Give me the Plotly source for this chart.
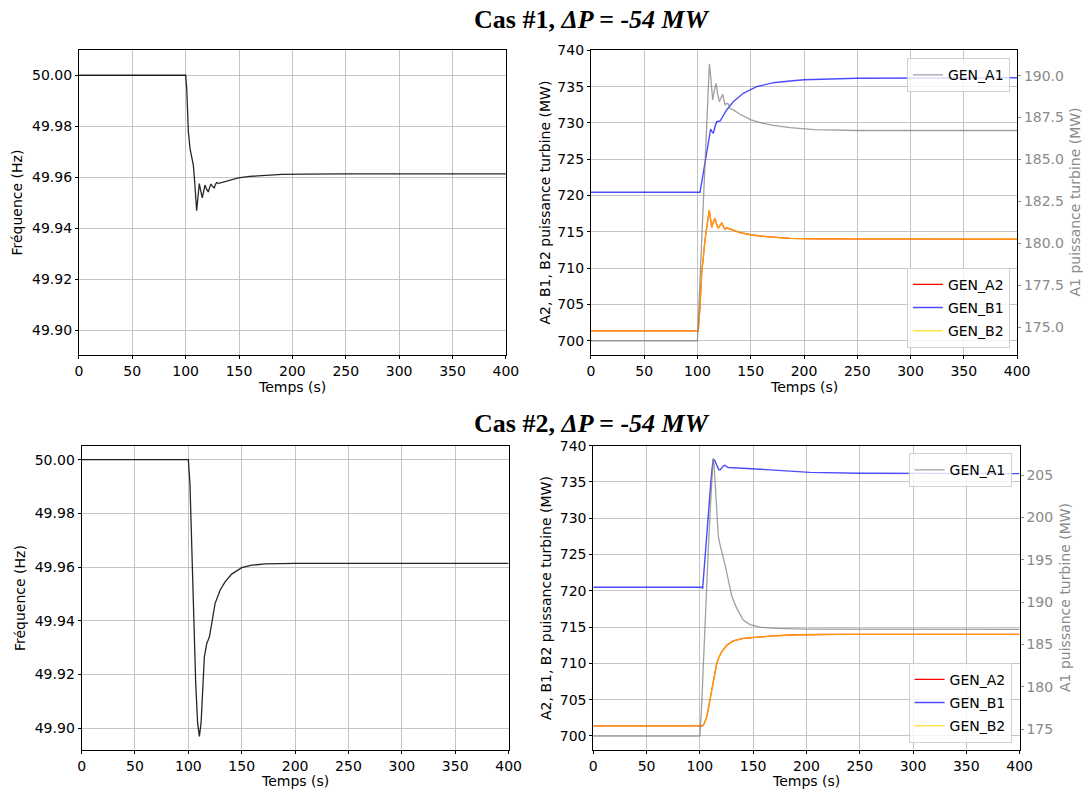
import plotly.graph_objects as go

# ---------------- data ----------------
# Cas 1 : frequency
t_f1 = [0, 100, 101, 102.5, 104.1, 105.5, 107.2, 108.5, 109.5, 110.3, 111.5, 112.8, 114.2, 115.6,
        116.9, 118.1, 119.6, 121.2, 122.5, 123.7, 125.3, 126.8, 128, 129, 131, 133, 136.9, 142,
        149.4, 160, 174.4, 190, 210, 250, 400]
f1 = [50.0, 50.0, 49.995, 49.978, 49.9712, 49.968, 49.9647, 49.958, 49.951, 49.9468, 49.952,
      49.9575, 49.9545, 49.9519, 49.9545, 49.9569, 49.9553, 49.9542, 49.956, 49.9573, 49.9563,
      49.9558, 49.9572, 49.9579, 49.9576, 49.9578, 49.9582, 49.9589, 49.9597, 49.9603, 49.9608,
      49.9611, 49.9612, 49.9613, 49.9613]

# Cas 2 : frequency
t_f2 = [0, 100, 101.5, 103.1, 104.7, 106.9, 108.7, 110.3, 111.9, 113.1, 115, 117.2, 119.7, 121.9,
        125, 129.7, 134.4, 140.6, 150, 159.4, 171.9, 200, 400]
f2 = [50.0, 50.0, 49.9911, 49.9663, 49.9415, 49.9166, 49.9018, 49.897, 49.9018, 49.9142, 49.9266,
      49.9315, 49.934, 49.939, 49.9464, 49.9514, 49.9545, 49.9574, 49.9598, 49.9607, 49.9612,
      49.9614, 49.9614]

# Cas 1 : GEN_A1 (right axis)
t_a1_c1 = [0, 100, 104, 108, 110, 111.2, 112.5, 113.5, 114.3, 115.8, 117.4, 119, 120.5, 122, 123.7,
           125, 125.9, 127.5, 129, 130.5, 133.7, 139.9, 150.3, 160, 171.2, 186.9, 210, 250, 400]
a1_c1 = [174.2, 174.2, 180.2, 186.2, 189.6, 190.7, 189.9, 188.9, 188.55, 189.1, 189.54, 188.9,
         188.45, 188.65, 188.89, 188.5, 188.25, 188.35, 188.3, 188.05, 187.96, 187.7, 187.36,
         187.18, 187.03, 186.9, 186.78, 186.73, 186.73]

# Cas 1 : GEN_B1
t_b1_c1 = [0, 102.4, 104.9, 106.5, 108.5, 110.2, 112.4, 113.6, 114.9, 116.5, 118.1, 121.2, 124.3,
           127.4, 133.6, 143, 155.6, 171.2, 186.9, 200, 250, 300, 400]
b1_c1 = [720.45, 720.45, 722.6, 724.0, 725.5, 727.6, 729.16, 728.8, 728.57, 729.5, 730.17, 730.26,
         731.09, 731.78, 732.92, 734.08, 734.99, 735.54, 735.77, 735.95, 736.15, 736.2, 736.22]

# Cas 1 : GEN_A2 and GEN_B2 (superposed)
t_b2_c1 = [0, 100.8, 102.4, 104, 107.1, 109, 110.3, 111.1, 112.2, 113.4, 115, 116.5, 118, 119.6,
           121.2, 122.8, 124.4, 125.9, 127.5, 129, 132.1, 136, 140, 151, 165, 187, 210, 400]
b2_c1 = [701.35, 701.35, 704.7, 709.3, 713.9, 716.0, 717.5, 718.0, 716.8, 715.6, 716.4, 716.86,
         716.0, 715.5, 715.9, 716.2, 715.7, 715.35, 715.55, 715.45, 715.25, 715.1, 714.88, 714.56,
         714.33, 714.1, 714.03, 714.0]
a2_c1 = [701.35, 701.35, 704.7, 709.3, 713.9, 716.0, 717.5, 718.0, 716.8, 715.6, 716.4, 716.86,
         716.0, 715.5, 715.9, 716.2, 715.7, 715.35, 715.55, 715.45, 715.25, 715.1, 714.88, 714.56,
         714.33, 714.1, 714.03, 714.0]

# Cas 2 : GEN_A1 (right axis)
t_a1_c2 = [0, 100, 101.5, 103.2, 105.4, 108, 110, 111.3, 112.4, 113.3, 114.2, 115.8, 117.3, 118.5,
           120.5, 122, 124, 126.7, 128.3, 130, 134.5, 140.7, 147, 156.4, 172, 200, 400]
a1_c2 = [174.2, 174.2, 177.4, 183.0, 189.6, 196.5, 201.6, 205.2, 206.9, 206.2, 204.3, 201.0, 197.8,
         197.0, 196.0, 195.5, 194.2, 192.6, 191.6, 190.7, 189.3, 187.9, 187.35, 187.05, 186.9,
         186.82, 186.8]

# Cas 2 : GEN_B1
t_b1_c2 = [0, 101.7, 102.6, 104.5, 106.4, 108.3, 110.2, 111.5, 112.6, 113.8, 115.1, 116.5, 117.7,
           118.9, 120.5, 122.5, 123.6, 125, 126.7, 128.3, 140, 156.4, 180, 203.3, 250, 300, 400]
b1_c2 = [720.5, 720.5, 720.3, 724.2, 727.9, 731.4, 734.8, 736.9, 738.1, 738.0, 737.6, 737.0, 736.7,
         736.65, 736.95, 737.25, 737.3, 737.1, 737.0, 737.0, 736.9, 736.75, 736.5, 736.33, 736.2,
         736.17, 736.15]

# Cas 2 : GEN_A2 and GEN_B2 (superposed)
t_b2_c2 = [0, 102.6, 104, 106.4, 108, 109.5, 111, 112.6, 114.2, 115.8, 118, 120.5, 125.2, 131.4,
           140.7, 150.1, 168.9, 190.8, 230, 400]
b2_c2 = [701.4, 701.4, 701.7, 702.6, 703.8, 705.0, 706.3, 707.7, 708.9, 710.0, 710.9, 711.6, 712.5,
         713.1, 713.45, 713.6, 713.8, 713.95, 714.0, 714.0]
a2_c2 = [701.4, 701.4, 701.7, 702.6, 703.8, 705.0, 706.3, 707.7, 708.9, 710.0, 710.9, 711.6, 712.5,
         713.1, 713.45, 713.6, 713.8, 713.95, 714.0, 714.0]

titles = ["<b>Cas #1, <i>ΔP = -54 MW</i></b>", "<b>Cas #2, <i>ΔP = -54 MW</i></b>"]
x_title = "Temps (s)"
f_title = "Fréquence (Hz)"
p_title = "A2, B1, B2 puissance turbine (MW)"
a1_title = "A1 puissance turbine (MW)"
x_ticks = [0, 50, 100, 150, 200, 250, 300, 350, 400]
f_ticks = [49.90, 49.92, 49.94, 49.96, 49.98, 50.00]
p_ticks = [700, 705, 710, 715, 720, 725, 730, 735, 740]
a1_ticks_c1 = [175.0, 177.5, 180.0, 182.5, 185.0, 187.5, 190.0]
a1_ticks_c2 = [175, 180, 185, 190, 195, 200, 205]

# ---------------- styling ----------------
W, H = 1083, 789
FONT = "DejaVu Sans"
GRID = "#c4c4c4"
GREY_TXT = "#8a8a8a"
C_FREQ = "rgba(0,0,0,0.85)"
C_A1 = "rgba(128,128,128,0.75)"
C_A2 = "rgb(255,0,0)"
C_B1 = "rgba(0,0,255,0.7)"
C_B2 = "rgba(255,215,0,0.7)"


def px_x(a, b):
    return [a / W, b / W]


def px_y(top, bottom):
    return [1 - bottom / H, 1 - top / H]


fig = go.Figure()

fig.add_trace(go.Scatter(x=t_f1, y=f1, mode="lines", line=dict(color=C_FREQ, width=1.3),
                         xaxis="x", yaxis="y", showlegend=False))
fig.add_trace(go.Scatter(x=t_f2, y=f2, mode="lines", line=dict(color=C_FREQ, width=1.3),
                         xaxis="x3", yaxis="y4", showlegend=False))

fig.add_trace(go.Scatter(x=t_b2_c1, y=a2_c1, mode="lines", name="GEN_A2", line=dict(color=C_A2, width=1.3),
                         xaxis="x2", yaxis="y2", legend="legend2", legendgroup="a2"))
fig.add_trace(go.Scatter(x=t_b1_c1, y=b1_c1, mode="lines", name="GEN_B1", line=dict(color=C_B1, width=1.4),
                         xaxis="x2", yaxis="y2", legend="legend2", legendgroup="b1"))
fig.add_trace(go.Scatter(x=t_b2_c1, y=b2_c1, mode="lines", name="GEN_B2", line=dict(color=C_B2, width=1.4),
                         xaxis="x2", yaxis="y2", legend="legend2", legendgroup="b2"))
fig.add_trace(go.Scatter(x=t_a1_c1, y=a1_c1, mode="lines", name="GEN_A1", line=dict(color=C_A1, width=1.3),
                         xaxis="x2", yaxis="y3", legend="legend"))

fig.add_trace(go.Scatter(x=t_b2_c2, y=a2_c2, mode="lines", name="GEN_A2", line=dict(color=C_A2, width=1.3),
                         xaxis="x4", yaxis="y5", legend="legend4", legendgroup="a2b"))
fig.add_trace(go.Scatter(x=t_b1_c2, y=b1_c2, mode="lines", name="GEN_B1", line=dict(color=C_B1, width=1.4),
                         xaxis="x4", yaxis="y5", legend="legend4", legendgroup="b1b"))
fig.add_trace(go.Scatter(x=t_b2_c2, y=b2_c2, mode="lines", name="GEN_B2", line=dict(color=C_B2, width=1.4),
                         xaxis="x4", yaxis="y5", legend="legend4", legendgroup="b2b"))
fig.add_trace(go.Scatter(x=t_a1_c2, y=a1_c2, mode="lines", name="GEN_A1", line=dict(color=C_A1, width=1.3),
                         xaxis="x4", yaxis="y6", legend="legend3"))

tickfont = dict(family=FONT, size=14, color="#000")
base_ax = dict(showline=True, linecolor="#000", linewidth=1, ticks="outside", ticklen=3,
               tickcolor="#000", tickwidth=1, showgrid=True, gridcolor=GRID, gridwidth=1,
               zeroline=False, tickfont=tickfont, automargin=False)


def xax(domain, anchor):
    return dict(base_ax, domain=domain, anchor=anchor, range=[0, 400], tickvals=x_ticks, mirror=True)


top_y = px_y(50.3, 355)
bot_y = px_y(445.7, 750)

leg_common = dict(bgcolor="rgba(255,255,255,0.8)", bordercolor="#d0d0d0", borderwidth=1,
                  font=dict(family=FONT, size=14, color="#000"), itemwidth=30,
                  xanchor="right", tracegroupgap=2)


def label(text, x, y, angle=0, color="#000"):
    return dict(text=text, x=x / W, y=1 - y / H, xref="paper", yref="paper",
                xanchor="center", yanchor="middle", showarrow=False, textangle=angle,
                font=dict(family=FONT, size=14, color=color))


annotations = [
    dict(text=titles[0], x=592 / W, y=1 - 20 / H, xref="paper", yref="paper",
         xanchor="center", yanchor="middle", showarrow=False,
         font=dict(family="Liberation Serif", size=26, color="#000")),
    dict(text=titles[1], x=592 / W, y=1 - 423 / H, xref="paper", yref="paper",
         xanchor="center", yanchor="middle", showarrow=False,
         font=dict(family="Liberation Serif", size=26, color="#000")),
    label(x_title, 292, 387),
    label(x_title, 804, 387),
    label(x_title, 295, 781),
    label(x_title, 806, 781),
    label(f_title, 17, 202.5, -90),
    label(f_title, 20, 598, -90),
    label(p_title, 545, 202.5, -90),
    label(p_title, 546, 598, -90),
    label(a1_title, 1075, 202.5, -90, GREY_TXT),
    label(a1_title, 1065, 598, -90, GREY_TXT),
]

fig.update_layout(
    width=W, height=H,
    margin=dict(l=0, r=0, t=0, b=0, autoexpand=False),
    paper_bgcolor="white", plot_bgcolor="white",
    font=dict(family=FONT, size=14, color="#000"),
    xaxis=xax(px_x(78.9, 505.9), "y"),
    yaxis=dict(base_ax, domain=top_y, anchor="x", range=[49.8902, 50.0098], tickvals=f_ticks,
               tickformat=".2f", mirror=True),
    xaxis2=xax(px_x(590.9, 1017.1), "y2"),
    yaxis2=dict(base_ax, domain=top_y, anchor="x2", range=[698.03, 740], tickvals=p_ticks),
    yaxis3=dict(base_ax, overlaying="y2", side="right", anchor="x2", range=[173.35, 191.51],
                tickvals=a1_ticks_c1, tickformat=".1f", showgrid=False, tickcolor=GREY_TXT,
                tickfont=dict(family=FONT, size=14, color=GREY_TXT)),
    xaxis3=xax(px_x(81.6, 508.6), "y4"),
    yaxis4=dict(base_ax, domain=bot_y, anchor="x3", range=[49.8919, 50.0052], tickvals=f_ticks,
                tickformat=".2f", mirror=True),
    xaxis4=xax(px_x(593.3, 1019.6), "y5"),
    yaxis5=dict(base_ax, domain=bot_y, anchor="x4", range=[698.07, 740], tickvals=p_ticks),
    yaxis6=dict(base_ax, overlaying="y5", side="right", anchor="x4", range=[172.56, 208.46],
                tickvals=a1_ticks_c2, showgrid=False, tickcolor=GREY_TXT,
                tickfont=dict(family=FONT, size=14, color=GREY_TXT)),
    legend=dict(leg_common, x=1009.9 / W, y=1 - 58.3 / H, yanchor="top"),
    legend2=dict(leg_common, x=1009.9 / W, y=1 - 347.7 / H, yanchor="bottom"),
    legend3=dict(leg_common, x=1011.6 / W, y=1 - 453.3 / H, yanchor="top"),
    legend4=dict(leg_common, x=1011.6 / W, y=1 - 742.7 / H, yanchor="bottom"),
    annotations=annotations,
)

fig.write_html("out.html", config={"displayModeBar": False},
               post_script="document.body.style.margin='0px';document.body.style.overflow='hidden';")
